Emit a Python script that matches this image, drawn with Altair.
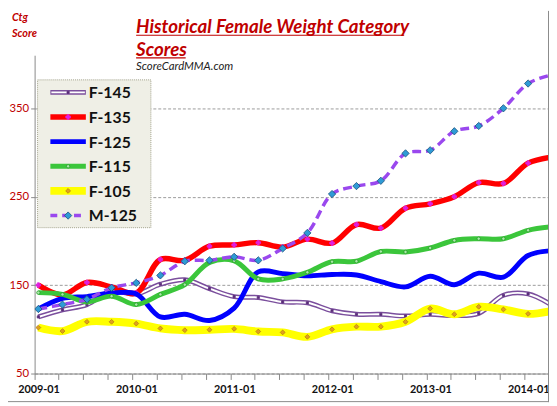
import pandas as pd
import altair as alt

# quarterly score points, mid-month
dates = [f"{2009 + i // 4}-{1 + 3 * (i % 4):02d}-15" for i in range(22)]

names = ["F-145", "F-135", "F-125", "F-115", "F-105", "M-125"]

f145 = [114, 122, 128, 143, 140, 151, 156, 146, 137, 136, 131, 130,
        121, 117, 117, 115, 117, 115.5, 118, 138.5, 140, 127]
f135 = [150, 139, 153, 148, 141, 179, 178, 194, 195.5, 198, 193, 202,
        197.5, 218.5, 214.5, 237, 242, 250, 266, 265, 288, 295]
f125 = [123, 135, 137, 141, 140, 114, 117, 110, 124, 165, 163, 160.5,
        162, 161.5, 154, 148, 160, 150.5, 163.5, 159, 183.5, 189]
f115 = [141.5, 139.5, 131, 137.5, 128, 139.5, 150.5, 175.5, 177.5, 157, 157, 164.5,
        176.5, 177, 188, 187.5, 192, 200.5, 202.5, 202.5, 212, 216]
f105 = [102, 98, 108.5, 108.5, 106.5, 101, 99, 99.5, 100.5, 97.5, 96.5, 91.5,
        100, 103, 103, 108.5, 123.5, 117, 125.5, 122.5, 117.5, 121]
m125 = [123, 128, 134, 147, 152.5, 161, 177, 178, 182, 178, 191.5, 209,
        253, 262, 268, 299, 302.5, 324, 330, 350, 378, 388]

values = [f145, f135, f125, f115, f105, m125]

df = pd.concat([pd.DataFrame({"date": dates, "series": n, "score": v})
                for n, v in zip(names, values)])

# line / marker styles per series
styles = {
    "F-145": dict(color="#7B4F9D", width=5, dash=None, inner="white",
                  shape="square", size=5, fill="#5A2D7A", stroke="#5A2D7A"),
    "F-135": dict(color="#FF0000", width=5.5, dash=None, inner=None,
                  shape="cross", size=22, fill="#E020E0", stroke="#E020E0"),
    "F-125": dict(color="#0000FF", width=5, dash=None, inner=None,
                  shape=None, size=0, fill=None, stroke=None),
    "F-115": dict(color="#3BC63B", width=5, dash=None, inner=None,
                  shape="circle", size=12, fill="#A8EBA8", stroke="#2A9A2A"),
    "F-105": dict(color="#FFFF00", width=8, dash=None, inner=None,
                  shape="diamond", size=24, fill="#E0A020", stroke="#B88010"),
    "M-125": dict(color="#9A48EE", width=3.5, dash=[9, 5], inner=None,
                  shape="diamond", size=55, fill="#2E9BD6", stroke="#1B4F7A"),
}

FONT = "Lato"
DARK_RED = "#C00000"

x_enc = alt.X(
    "date:T",
    scale=alt.Scale(type="utc",
                    domain=[alt.DateTime(year=2009, month=1, date=1, utc=True),
                            alt.DateTime(year=2014, month=4, date=3, utc=True)]),
    axis=alt.Axis(
        title="",
        values=[alt.DateTime(year=2009 + i // 4, month=1 + 3 * (i % 4), date=1, utc=True)
                for i in range(21)],
        labelExpr="utcmonth(datum.value) == 0 ? utcFormat(datum.value, '%Y-%m') : ''",
        labelOverlap=False, labelFlush=False, labelBound=False,
        labelFont=FONT, labelFontSize=11, labelFontWeight="bold", labelColor="#111",
        labelOffset=4, labelPadding=4,
        tickColor="#888", tickSize=6, domainColor="#888", grid=False,
    ),
)
y_enc = alt.Y(
    "score:Q",
    scale=alt.Scale(domain=[50, 410], nice=False, zero=False),
    axis=alt.Axis(
        title="", values=[50, 150, 250, 350],
        labelFont=FONT, labelFontSize=11.5, labelColor=DARK_RED, labelPadding=2,
        tickColor="#888", tickSize=4, domainColor="#888",
        grid=True, gridDash=[3, 2], gridColor="#9A9A9A",
    ),
)

layers = []
for n in names:
    s = styles[n]
    base = alt.Chart(df).transform_filter(alt.datum.series == n)
    line_kw = dict(color=s["color"], strokeWidth=s["width"],
                   interpolate="catmull-rom", clip=True)
    if s["dash"]:
        line_kw["strokeDash"] = s["dash"]
    layers.append(base.mark_line(**line_kw).encode(x=x_enc, y=y_enc))
    if s["inner"]:
        layers.append(base.mark_line(color=s["inner"], strokeWidth=2,
                                     interpolate="catmull-rom", clip=True)
                      .encode(x=x_enc, y=y_enc))
    if s["shape"]:
        layers.append(base.mark_point(shape=s["shape"], size=s["size"], filled=True,
                                      fill=s["fill"], stroke=s["stroke"],
                                      strokeWidth=0.8, opacity=1, clip=True)
                      .encode(x=x_enc, y=y_enc))

# legend box (pixel positions relative to plot origin)
dummy = pd.DataFrame({"a": [0]})
layers.append(alt.Chart(dummy).mark_rect(fill="#EFEFE6", stroke="#A3A38C",
                                         strokeDash=[1, 1], strokeWidth=1)
              .encode(x=alt.value(3), x2=alt.value(118),
                      y=alt.value(25), y2=alt.value(175)))
for i, n in enumerate(names):
    s = styles[n]
    yy = 37.7 + 25 * i
    rule_kw = dict(color=s["color"], strokeWidth=s["width"])
    if s["dash"]:
        rule_kw["strokeDash"] = [7, 5]
    layers.append(alt.Chart(dummy).mark_rule(**rule_kw)
                  .encode(x=alt.value(16), x2=alt.value(52), y=alt.value(yy)))
    if s["inner"]:
        layers.append(alt.Chart(dummy).mark_rule(color=s["inner"], strokeWidth=2)
                      .encode(x=alt.value(17), x2=alt.value(51), y=alt.value(yy)))
    if s["shape"]:
        layers.append(alt.Chart(dummy).mark_point(shape=s["shape"], size=s["size"],
                                                  filled=True, fill=s["fill"],
                                                  stroke=s["stroke"], strokeWidth=0.8,
                                                  opacity=1)
                      .encode(x=alt.value(34), y=alt.value(yy)))
    layers.append(alt.Chart(pd.DataFrame({"t": [n]}))
                  .mark_text(font=FONT, fontSize=16, fontWeight="bold", color="#111",
                             align="left", baseline="middle")
                  .encode(x=alt.value(55), y=alt.value(yy + 1), text="t:N"))

# titles
def label(txt, x, y, size, color, weight="normal", style="normal"):
    return (alt.Chart(pd.DataFrame({"t": [txt]}))
            .mark_text(font=FONT, fontSize=size, fontWeight=weight, fontStyle=style,
                       color=color, align="left", baseline="alphabetic")
            .encode(x=alt.value(x), y=alt.value(y), text="t:N"))

layers.append(label("Historical Female Weight Category", 103, -23, 19, DARK_RED,
                    "bold", "italic"))
layers.append(label("Scores", 103, 0.3, 19, DARK_RED, "bold", "italic"))
layers.append(label("ScoreCardMMA.com", 103, 14.7, 11.5, "#222", "normal", "italic"))
layers.append(label("Ctg", -23, -34.7, 11, DARK_RED, "bold", "italic"))
layers.append(label("Score", -23, -18, 11, DARK_RED, "bold", "italic"))

# title underlines
layers.append(alt.Chart(dummy).mark_rule(color=DARK_RED, strokeWidth=1.2)
              .encode(x=alt.value(103), x2=alt.value(375), y=alt.value(-20.3)))
layers.append(alt.Chart(dummy).mark_rule(color=DARK_RED, strokeWidth=1.2)
              .encode(x=alt.value(103), x2=alt.value(153.3), y=alt.value(2.7)))

# outer frame on the right and bottom edges
layers.append(alt.Chart(dummy).mark_rule(color="#8A8A8A", strokeWidth=1)
              .encode(x=alt.value(521.5), y=alt.value(-45), y2=alt.value(352)))
layers.append(alt.Chart(dummy).mark_rule(color="#8A8A8A", strokeWidth=1)
              .encode(x=alt.value(-27), x2=alt.value(522), y=alt.value(351.5)))

chart = (alt.layer(*layers)
         .properties(width=522, height=323,
                     padding={"left": 27, "top": 45, "right": 0, "bottom": 29},
                     autosize=alt.AutoSizeParams(type="none"),
                     background="white")
         .configure_view(stroke="transparent"))

chart.save("out.html", embed_options={"renderer": "svg", "actions": False})
